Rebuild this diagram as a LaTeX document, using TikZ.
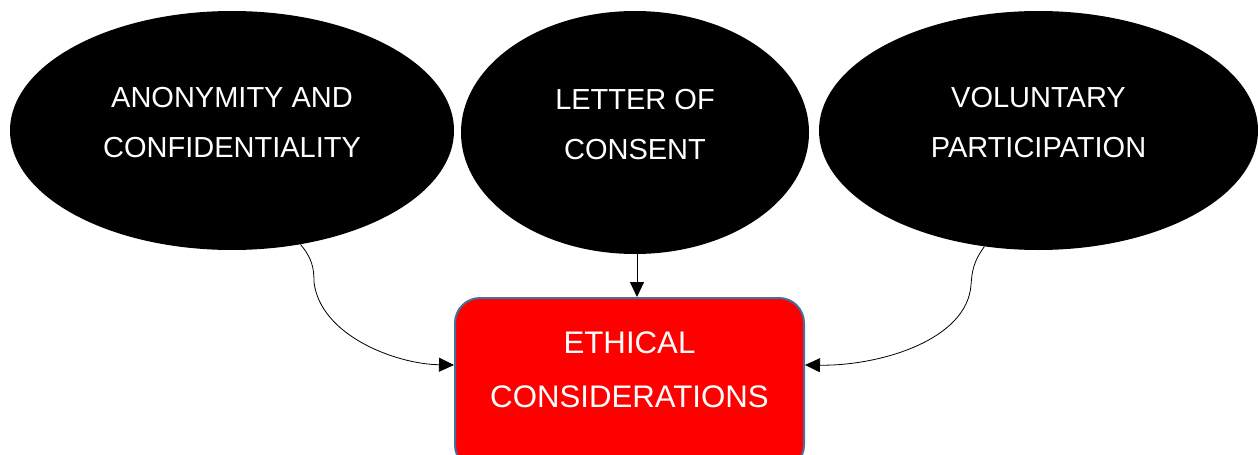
\documentclass[tikz,border=0pt]{standalone}
\usepackage{fontspec}
\setmainfont{Liberation Sans}
\usetikzlibrary{shapes.geometric,arrows.meta,calc}
\definecolor{boxedge}{HTML}{41719C}
\begin{document}
\begin{tikzpicture}[x=1pt,y=-1pt,
  blob/.style={ellipse,fill=black,draw=none,text=white,align=center,inner sep=0pt,
    font=\fontsize{29}{50}\selectfont,text depth=17pt},
  mainbox/.style={rectangle,rounded corners=25pt,fill=red,draw=boxedge,line width=2pt,
    text=white,align=center,inner sep=0pt,minimum width=349pt,minimum height=172pt,
    font=\fontsize{31.2}{54}\selectfont,text depth=29pt},
  conn/.style={draw=black,line width=0.8pt,-{Triangle[length=15pt,width=14pt]}}]
\useasboundingbox (0,0) rectangle (1258,455);
\node[blob,minimum width=444pt,minimum height=239pt] (e1) at (232,130.5) {ANONYMITY AND\\CONFIDENTIALITY};
\node[blob,minimum width=348pt,minimum height=243pt] (e2) at (635,132.5) {LETTER OF\\CONSENT};
\node[blob,minimum width=439pt,minimum height=239pt] (e3) at (1038.5,130.5) {VOLUNTARY\\PARTICIPATION};
\node[mainbox] (box) at (629.5,384) {ETHICAL\\CONSIDERATIONS};
\path (box.north west) ++(0,68) coordinate (inL);
\path (box.north east) ++(0,68) coordinate (inR);
\path (box.north west) ++(183,0) coordinate (inM);
\path (e2.south) ++(2,0) coordinate (outM);
\draw[conn] (e1.-59) .. controls (312,258) and (314,268) .. (314,282)
  .. controls (320,335) and (395,364) .. (inL);
\draw[conn] (outM) -- (inM);
\draw[conn] (e3.-115) .. controls (973,262) and (972,272) .. (971,285)
  .. controls (967,340) and (880,366) .. (inR);
\end{tikzpicture}
\end{document}
